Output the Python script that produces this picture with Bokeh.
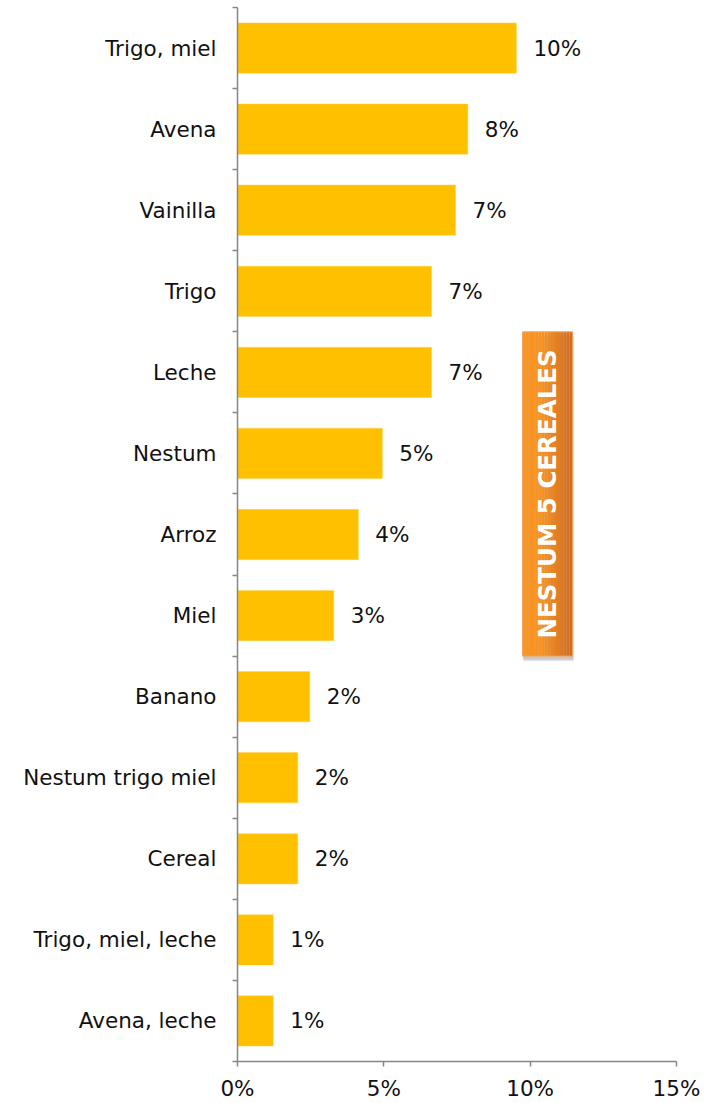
import math
from bokeh.plotting import figure
from bokeh.models import FixedTicker, NumeralTickFormatter, Range1d, ColumnDataSource
from bokeh.core.properties import value
from bokeh.embed import file_html
from bokeh.resources import INLINE

categories = ["Trigo, miel", "Avena", "Vainilla", "Trigo", "Leche", "Nestum", "Arroz",
              "Miel", "Banano", "Nestum trigo miel", "Cereal", "Trigo, miel, leche", "Avena, leche"]
values = [0.0953, 0.0787, 0.0745, 0.0663, 0.0663, 0.0495, 0.0413, 0.0329, 0.0247,
          0.0206, 0.0206, 0.0122, 0.0122]
value_labels = ["10%", "8%", "7%", "7%", "7%", "5%", "4%", "3%", "2%", "2%", "2%", "1%", "1%"]
x_ticks = [0, 0.05, 0.10, 0.15]
callout_text = "NESTUM 5 CEREALES"

n = len(categories)
ypos = [n - i for i in range(n)]  # top category highest

FONT = "DejaVu Sans"

p = figure(width=718, height=1103, output_backend="svg", toolbar_location=None,
           x_range=Range1d(0, 0.15), y_range=Range1d(0.5, n + 0.5),
           min_border_left=237, min_border_right=42, min_border_top=7, min_border_bottom=41)
p.outline_line_color = None
p.xgrid.visible = False
p.ygrid.visible = False
p.background_fill_color = "white"
p.border_fill_color = "white"

src = ColumnDataSource(dict(y=ypos, v=values, lab=value_labels, cat=categories))
p.hbar(y="y", right="v", left=0, height=0.62, source=src, fill_color="#FFC000",
       line_color="#FFD24D", line_width=0.5)

p.text(x="v", y="y", text="lab", source=src, x_offset=17, text_align="left",
       text_baseline="middle", text_font=value(FONT), text_font_size="21.5px",
       text_color="#111111")

# Y axis: labels at centers, ticks at boundaries (minor)
ya = p.yaxis[0]
ya.ticker = FixedTicker(ticks=ypos, minor_ticks=[k + 0.5 for k in range(0, n + 1)])
ya.major_label_overrides = {y: c for y, c in zip(ypos, categories)}
ya.major_tick_line_color = None
ya.major_tick_out = 0
ya.major_tick_in = 0
ya.minor_tick_out = 5
ya.minor_tick_in = 0
ya.minor_tick_line_color = "#868686"
ya.minor_tick_line_width = 1.5
ya.axis_line_color = "#868686"
ya.axis_line_width = 1.5
ya.major_label_standoff = 16
ya.major_label_text_font = FONT
ya.major_label_text_font_size = "21.5px"
ya.major_label_text_color = "#111111"

xa = p.xaxis[0]
xa.ticker = FixedTicker(ticks=x_ticks, minor_ticks=[])
xa.formatter = NumeralTickFormatter(format="0%")
xa.major_tick_out = 5
xa.major_tick_in = 0
xa.major_tick_line_color = "#868686"
xa.major_tick_line_width = 1.5
xa.axis_line_color = "#868686"
xa.axis_line_width = 1.5
xa.major_label_standoff = 9
xa.major_label_text_font = FONT
xa.major_label_text_font_size = "21.5px"
xa.major_label_text_color = "#111111"

# Callout box with gradient and shadow
bx_l, bx_r, bx_b, bx_t = 0.0974, 0.1145, 5.5, 9.5
for k, a in enumerate([0.10, 0.08, 0.06]):
    off_x = 0.00012 * (k + 1)
    off_y = 0.012 * (k + 1)
    p.quad(left=bx_l + off_x, right=bx_r + off_x + 0.0001, bottom=bx_b - off_y - 0.03,
           top=bx_t - 0.05, fill_color="#000000", fill_alpha=a, line_color=None)
c0 = (247, 148, 36)
c1 = (210, 110, 35)
steps = 16
w = (bx_r - bx_l) / steps
for s in range(steps):
    t = s / (steps - 1)
    t2 = max(0.0, (t - 0.35) / 0.65)
    col = tuple(int(c0[j] + (c1[j] - c0[j]) * t2) for j in range(3))
    p.quad(left=bx_l + s * w, right=bx_l + (s + 1) * w + 0.00002, bottom=bx_b, top=bx_t,
           fill_color="#%02x%02x%02x" % col, line_color=None)
p.quad(left=bx_l, right=bx_r, bottom=bx_b, top=bx_t, fill_color=None,
       line_color="#F7A45A", line_width=1)
p.text(x=[(bx_l + bx_r) / 2], y=[(bx_b + bx_t) / 2], text=[callout_text], angle=math.pi / 2,
       text_align="center", text_baseline="middle", text_font=value(FONT),
       text_font_style="bold", text_font_size="24.5px", text_color="white")

open("out.html", "w").write(file_html(p, INLINE))
